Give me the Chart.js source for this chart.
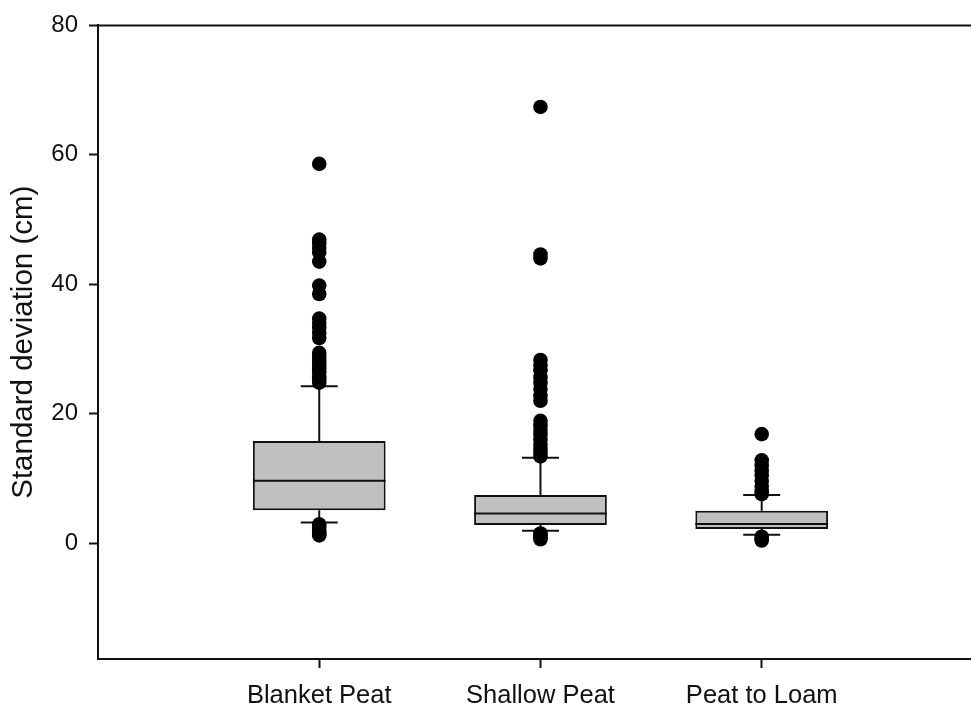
<!DOCTYPE html>
<html>
<head>
<meta charset="utf-8">
<script src="https://cdn.jsdelivr.net/npm/chart.js@4/dist/chart.umd.min.js"></script>
<style>
  html, body { margin: 0; padding: 0; background: #fff; }
  #wrap { width: 971px; height: 708px; position: relative; }
</style>
</head>
<body>
<div id="wrap"><canvas id="c" width="971" height="708"></canvas></div>
<script>
// Soil depth variability by peat class (box = quartiles, whiskers = 10th/90th percentiles)
const categories = ['Blanket Peat', 'Shallow Peat', 'Peat to Loam'];
const q1 = [5.1, 2.8, 2.2];
const medians = [9.65, 4.6, 2.95];
const q3 = [15.8, 7.45, 5.0];
const whiskerLow = [3.2, 1.9, 1.3];
const whiskerHigh = [24.25, 13.2, 7.45];

const outliersBlanket = [58.6, 46.9, 46.3, 45.6, 44.9, 43.5, 39.8, 38.5,
  34.7, 34.0, 33.3, 32.5, 31.7, 29.4, 28.8, 28.2, 27.6, 27.0, 26.4, 25.8,
  25.3, 24.8, 2.9, 2.4, 1.9, 1.5, 1.2];
const outliersShallow = [67.4, 44.6, 44.0, 28.3, 27.5, 26.7, 25.6, 24.8,
  23.8, 22.8, 22.0, 18.9, 18.2, 17.5, 16.8, 16.0, 15.3, 14.6, 14.0, 13.4,
  1.5, 1.2, 0.9, 0.6];
const outliersLoam = [16.85, 12.8, 12.0, 11.2, 10.5, 9.6, 8.8, 8.0, 7.6,
  1.0, 0.7, 0.4];
const outlierGroups = [outliersBlanket, outliersShallow, outliersLoam];

const yTicks = [0, 20, 40, 60, 80];
const yMin = -17.9, yMax = 80;

const FONT = '"Liberation Sans", Arial, Helvetica, sans-serif';
const INK = '#111';

const boxData = categories.map((c, i) => ({ x: i + 1, y: [q1[i], q3[i]] }));
const pointData = [];
outlierGroups.forEach((vals, i) => vals.forEach(v => pointData.push({ x: i + 1, y: v })));

const boxPlotPlugin = {
  id: 'boxPlotParts',
  beforeDatasetsDraw(chart) {
    const { ctx, scales: { x, y }, chartArea } = chart;
    ctx.save();
    ctx.strokeStyle = INK;
    ctx.lineWidth = 2;
    // top frame line at the axis maximum
    ctx.beginPath();
    ctx.moveTo(chartArea.left, y.getPixelForValue(yMax));
    ctx.lineTo(chartArea.right, y.getPixelForValue(yMax));
    ctx.stroke();
    // whiskers and caps
    const capHalf = 18.5;
    categories.forEach((c, i) => {
      const cx = x.getPixelForValue(i + 1);
      ctx.beginPath();
      ctx.moveTo(cx, y.getPixelForValue(q3[i]));
      ctx.lineTo(cx, y.getPixelForValue(whiskerHigh[i]));
      ctx.moveTo(cx, y.getPixelForValue(q1[i]));
      ctx.lineTo(cx, y.getPixelForValue(whiskerLow[i]));
      ctx.moveTo(cx - capHalf, y.getPixelForValue(whiskerHigh[i]));
      ctx.lineTo(cx + capHalf, y.getPixelForValue(whiskerHigh[i]));
      ctx.moveTo(cx - capHalf, y.getPixelForValue(whiskerLow[i]));
      ctx.lineTo(cx + capHalf, y.getPixelForValue(whiskerLow[i]));
      ctx.stroke();
    });
    ctx.restore();
  },
  afterDatasetsDraw(chart) {
    const { ctx, scales: { y } } = chart;
    const meta = chart.getDatasetMeta(1);
    ctx.save();
    ctx.strokeStyle = INK;
    ctx.lineWidth = 2;
    meta.data.forEach((bar, i) => {
      const half = bar.width / 2;
      const my = y.getPixelForValue(medians[i]);
      ctx.beginPath();
      ctx.moveTo(bar.x - half, my);
      ctx.lineTo(bar.x + half, my);
      ctx.stroke();
    });
    ctx.restore();
  }
};

new Chart(document.getElementById('c'), {
  type: 'bar',
  data: {
    datasets: [
      {
        type: 'scatter',
        label: 'Outliers',
        data: pointData,
        pointRadius: 7.3,
        pointBackgroundColor: '#000',
        pointBorderWidth: 0,
        order: 0
      },
      {
        type: 'bar',
        label: 'Quartiles',
        data: boxData,
        backgroundColor: '#c0c0c0',
        borderColor: INK,
        borderWidth: 2,
        borderSkipped: false,
        barPercentage: 0.6,
        categoryPercentage: 1,
        order: 1
      }
    ]
  },
  plugins: [boxPlotPlugin],
  options: {
    responsive: false,
    animation: false,
    layout: { autoPadding: false, padding: { top: 24, right: 0, left: 0, bottom: 0 } },
    plugins: { legend: { display: false }, tooltip: { enabled: false } },
    scales: {
      x: {
        type: 'linear',
        min: 0,
        max: 3.946,
        offset: false,
        afterBuildTicks: (scale) => { scale.ticks = categories.map((c, i) => ({ value: i + 1 })); },
        afterFit: (scale) => { scale.height = 49; },
        ticks: {
          callback: (v) => categories[v - 1] ?? '',
          font: { family: FONT, size: 25.5 },
          color: INK,
          padding: 13,
          maxRotation: 0,
          autoSkip: false
        },
        grid: { offset: false, drawOnChartArea: false, drawTicks: true, tickLength: 9, tickColor: INK, tickWidth: 2 },
        border: { display: true, color: INK, width: 2 }
      },
      y: {
        type: 'linear',
        min: yMin,
        max: yMax,
        afterBuildTicks: (scale) => { scale.ticks = yTicks.map(v => ({ value: v })); },
        afterFit: (scale) => { scale.width = 98; },
        ticks: {
          font: { family: FONT, size: 24 },
          color: INK,
          padding: 11
        },
        grid: { drawOnChartArea: false, drawTicks: true, tickLength: 9, tickColor: INK, tickWidth: 2 },
        border: { display: true, color: INK, width: 2 },
        title: {
          display: true,
          text: 'Standard deviation (cm)',
          font: { family: FONT, size: 29.5 },
          color: INK,
          padding: { top: 6, bottom: 0 }
        }
      }
    }
  }
});
</script>
</body>
</html>
